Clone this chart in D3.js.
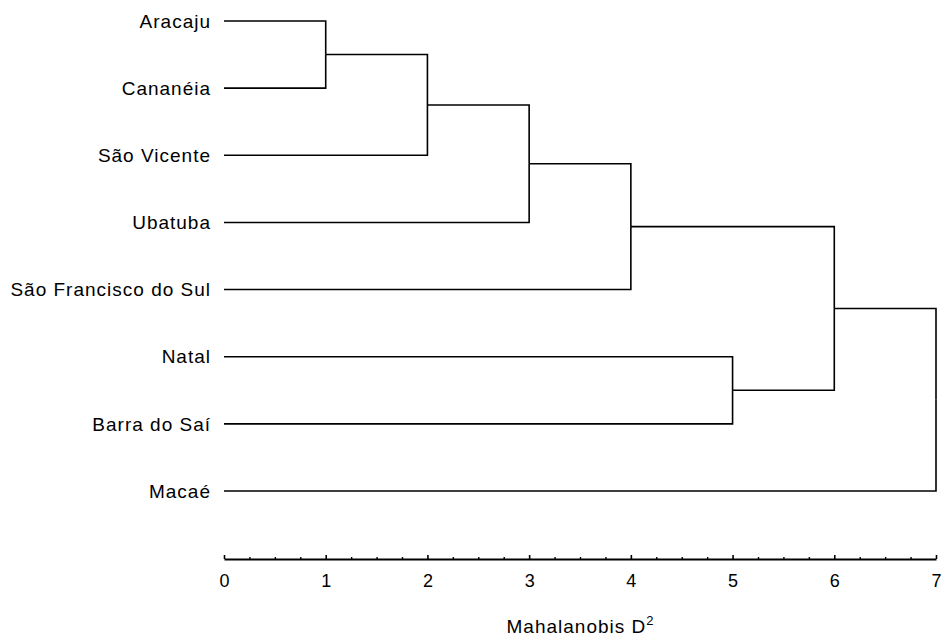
<!DOCTYPE html>
<html>
<head>
<meta charset="utf-8">
<script src="https://cdn.jsdelivr.net/npm/d3@7"></script>
<style>
  body { margin: 0; background: #fff; }
  svg { display: block; }
  .leaf_label, .axis_title { font-family: Arial, "Liberation Sans", sans-serif; font-size: 19px; letter-spacing: 1px; fill: #000; }
  .axis text { font-family: Arial, "Liberation Sans", sans-serif; font-size: 18px; fill: #000; }
</style>
</head>
<body>
<div id="chart"></div>
<script>
// leaves, top to bottom
const leaves = [
  "Aracaju",
  "Cananéia",
  "São Vicente",
  "Ubatuba",
  "São Francisco do Sul",
  "Natal",
  "Barra do Saí",
  "Macaé"
];

// merges: [left, right, distance] - left/right are leaf names or earlier merge ids (m0, m1...)
const mergeLeft   = ["Aracaju",  "m0",          "m1",      "m2",                   "Natal",        "m3", "m5"];
const mergeRight  = ["Cananéia", "São Vicente", "Ubatuba", "São Francisco do Sul", "Barra do Saí", "m4", "Macaé"];
const mergeHeight = [1, 2, 3, 4, 5, 6, 7];

const axisTicks = [0, 1, 2, 3, 4, 5, 6, 7];

const WIDTH = 943, HEIGHT = 638;
const X0 = 224, X1 = 936;     // axis range
const Y0 = 21,  Y1 = 491;     // first / last leaf
const AXIS_Y = 559;

const svg = d3.select("#chart").append("svg")
  .attr("width", WIDTH)
  .attr("height", HEIGHT);

const x = d3.scaleLinear().domain([0, 7]).range([X0, X1]);
const y = d3.scalePoint().domain(leaves).range([Y0, Y1]);

// build the tree from the merge list
let nodes = {};
leaves.forEach(name => { nodes[name] = { name: name, height: 0 }; });
mergeLeft.forEach((l, i) => {
  nodes["m" + i] = { name: "m" + i, height: mergeHeight[i], children: [nodes[l], nodes[mergeRight[i]]] };
});
const root = d3.hierarchy(nodes["m" + (mergeLeft.length - 1)]);

// leaf y from scale, node y = midpoint of its children
root.eachAfter(d => {
  d.px = x(d.data.height);
  d.py = d.children ? d3.mean(d.children, c => c.py) : y(d.data.name);
});

// elbow links
const links = svg.append("g")
  .attr("fill", "none")
  .attr("stroke", "#000")
  .attr("stroke-width", 1.6);

links.selectAll("path")
  .data(root.links())
  .enter().append("path")
  .attr("d", l => `M${l.target.px},${l.target.py}H${l.source.px}V${l.source.py}`);

// leaf labels
svg.append("g").selectAll("text")
  .data(root.leaves())
  .enter().append("text")
  .attr("class", "leaf_label")
  .attr("x", X0 - 13)
  .attr("y", d => d.py)
  .attr("dy", "0.35em")
  .attr("text-anchor", "end")
  .text(d => d.data.name);

// minor ticks every 0.25
svg.append("g")
  .attr("transform", `translate(0,${AXIS_Y})`)
  .call(d3.axisBottom(x)
    .tickValues(d3.range(0, 7.001, 0.25).filter(v => v % 1 !== 0))
    .tickSizeInner(-2)
    .tickSizeOuter(0)
    .tickFormat(""))
  .call(g => g.select(".domain").remove())
  .selectAll("line").attr("stroke", "#000").attr("stroke-width", 1.4);

// major axis
const axis = svg.append("g")
  .attr("class", "axis")
  .attr("transform", `translate(0,${AXIS_Y})`)
  .call(d3.axisBottom(x)
    .tickValues(axisTicks)
    .tickSizeInner(-4)
    .tickSizeOuter(0)
    .tickPadding(15)
    .tickFormat(d3.format("d")));

axis.select(".domain").attr("stroke", "#000").attr("stroke-width", 2);
axis.selectAll(".tick line").attr("stroke", "#000").attr("stroke-width", 1.6);

// axis title
const title = svg.append("text")
  .attr("class", "axis_title")
  .attr("x", (X0 + X1) / 2)
  .attr("y", 633)
  .attr("text-anchor", "middle");
title.append("tspan").text("Mahalanobis D");
title.append("tspan")
  .attr("dy", -8)
  .style("font-size", "13px")
  .style("letter-spacing", "0px")
  .text("2");
</script>
</body>
</html>
